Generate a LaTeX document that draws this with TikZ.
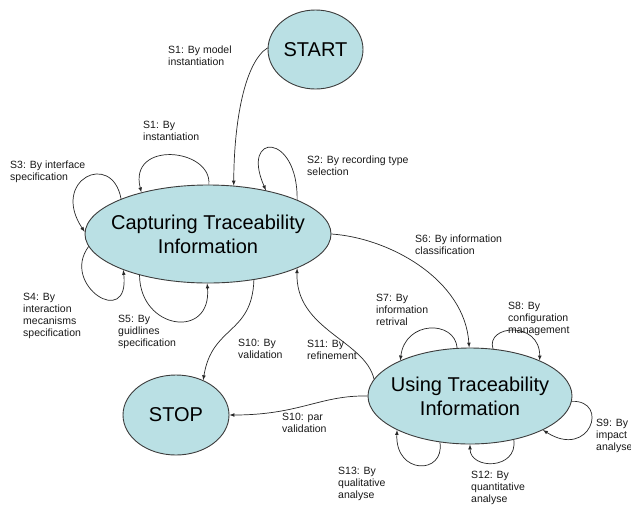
\documentclass[tikz,border=0pt]{standalone}
\usepackage{fontspec}
\setmainfont{Liberation Sans}
\usepackage{xcolor}
\usepackage{tikz}
\usetikzlibrary{shapes.geometric}
\usetikzlibrary{arrows}
\definecolor{stfill}{RGB}{186,224,228}
\definecolor{stline}{RGB}{60,60,60}
\definecolor{lnk}{RGB}{40,40,40}
\begin{document}
\begin{tikzpicture}[x=1pt,y=-1pt,
	state/.style={ellipse,draw=stline,line width=0.9pt,fill=stfill,inner xsep=-30pt,inner ysep=0pt,align=center,font=\fontsize{20}{24}\selectfont},
	lbl/.style={anchor=north west,inner sep=0pt,align=left,text=black!90,font=\fontsize{10.5}{12}\selectfont},
	link/.style={-latex,draw=lnk,line width=0.7pt}]
	\clip (0,0) rectangle (631,509);
	\fill[white] (0,0) rectangle (631,509);
	% states
	\node[state,minimum width=95pt,minimum height=79pt] (start) at (315.5,49.5) {START};
	\node[state,minimum width=246pt,minimum height=98pt] (cap) at (208,234) {Capturing Traceability\\Information};
	\node[state,minimum width=106pt,minimum height=80pt] (stop) at (176,415) {STOP};
	\node[state,minimum width=204pt,minimum height=96pt] (use) at (470,396) {Using Traceability\\Information};
	% transitions
	\draw[link] (start.178) .. controls (245,62) and (234,120) .. (cap.62);
	\draw[link] (cap.89) .. controls (212,148) and (128,140) .. (cap.148);
	\draw[link] (cap.21.5) .. controls (298,132) and (240,132) .. (cap.37);
	\draw[link] (cap.158) .. controls (112,150) and (50,180) .. (cap.179);
	\draw[link] (cap.186) .. controls (60,285) and (130,330) .. (cap.203);
	\draw[link] (cap.211) .. controls (140,330) and (212,340) .. (cap.269);
	\draw[link] (cap.315) .. controls (252,335) and (212,325) .. (stop.52);
	\draw[link] (use.170) .. controls (365,340) and (295,330) .. (cap.339);
	\draw[link] (use.180) .. controls (320,395) and (300,415) .. (stop.0);
	\draw[link] (cap.0) .. controls (390,238) and (465,280) .. (use.91);
	\draw[link] (use.105) .. controls (455,320) and (405,320) .. (use.153);
	\draw[link] (use.64) .. controls (485,325) and (540,320) .. (use.27);
	\draw[link] (use.357) .. controls (610,400) and (590,460) .. (use.335);
	\draw[link] (use.315) .. controls (518,470) and (470,470) .. (use.270);
	\draw[link] (use.237) .. controls (445,475) and (395,475) .. (use.205);
	% labels
	\node[lbl] (l1) at (168,46) {S1: By model\\instantiation};
	\node[lbl] (l1b) at (143,121) {S1: By\\instantiation};
	\node[lbl] (l3) at (10,161) {S3: By interface\\specification};
	\node[lbl] (l2) at (307,156) {S2: By recording type\\selection};
	\node[lbl] (l4) at (23,293) {S4: By\\interaction\\mecanisms\\specification};
	\node[lbl] (l5) at (118,315) {S5: By\\guidlines\\specification};
	\node[lbl] (l10) at (238,339) {S10: By\\validation};
	\node[lbl] (l11) at (307,340) {S11: By\\refinement};
	\node[lbl] (l6) at (415,235) {S6: By information\\classification};
	\node[lbl] (l7) at (376,294) {S7: By\\information\\retrival};
	\node[lbl] (l8) at (508,302) {S8: By\\configuration\\management};
	\node[lbl] (l9) at (596,419) {S9: By\\impact\\analyse};
	\node[lbl] (l10b) at (282,413) {S10: par\\validation};
	\node[lbl] (l12) at (471,471) {S12: By\\quantitative\\analyse};
	\node[lbl] (l13) at (338,467) {S13: By\\qualitative\\analyse};
\end{tikzpicture}
\end{document}
